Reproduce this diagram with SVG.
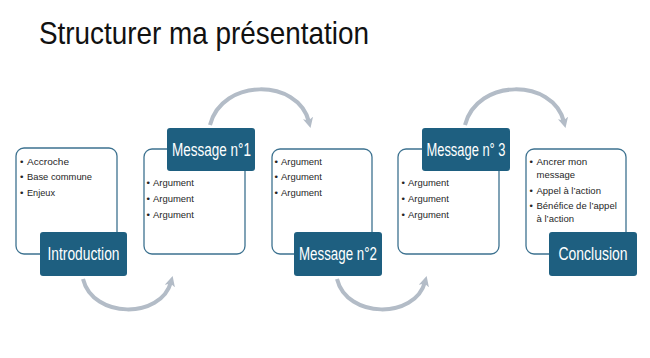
<svg xmlns="http://www.w3.org/2000/svg" width="650" height="358" viewBox="0 0 650 358">
<defs>
<style>
.box{fill:#fff;stroke:#3d7290;stroke-width:1.3}
.lab{fill:#1e5f80}
.lt{font-family:"Liberation Sans",Arial,sans-serif;font-size:17.5px;fill:#fff;text-anchor:middle}
.bt{font-family:"Liberation Sans",Arial,sans-serif;font-size:9.8px;fill:#262626}
.arc{fill:none;stroke:#b3bcc7;stroke-width:4;marker-end:url(#ah)}
</style>
<marker id="ah" viewBox="0 0 10 10" refX="4" refY="5" markerWidth="2.6" markerHeight="2.6" orient="auto" markerUnits="strokeWidth">
<path d="M0,0 L10,5 L0,10 L2.5,5 Z" fill="#b3bcc7"/>
</marker>
</defs>
<rect width="650" height="358" fill="#fff"/>
<text x="39" y="44" font-family="'Liberation Sans',Arial,sans-serif" font-size="32" fill="#111" textLength="330" lengthAdjust="spacingAndGlyphs">Structurer ma présentation</text>

<g id="connectors">
<path class="arc" d="M83,279 C93,319 161,319 171,282"/>
<path class="arc" d="M210,125 C222,78 298,78 309,122"/>
<path class="arc" d="M337,279 C347,319 415,319 425,282"/>
<path class="arc" d="M465,125 C477,78 553,78 564,122"/>
</g>

<g id="introduction">
<rect class="box" x="16" y="148" width="101" height="106" rx="8"/>
<text class="bt" x="20" y="164.5">•</text><text class="bt" x="27" y="164.5" textLength="42" lengthAdjust="spacingAndGlyphs">Accroche</text>
<text class="bt" x="20" y="180">•</text><text class="bt" x="27" y="180" textLength="65" lengthAdjust="spacingAndGlyphs">Base commune</text>
<text class="bt" x="20" y="195.5">•</text><text class="bt" x="27" y="195.5" textLength="28" lengthAdjust="spacingAndGlyphs">Enjeux</text>
<rect class="lab" x="40" y="232" width="87" height="44" rx="3"/>
<text class="lt" x="83.5" y="259.5" textLength="72" lengthAdjust="spacingAndGlyphs">Introduction</text>
</g>

<g id="message1">
<rect class="box" x="144" y="149" width="101" height="105" rx="8"/>
<rect class="lab" x="167" y="128" width="88" height="43" rx="3"/>
<text class="lt" x="211.5" y="155.5" textLength="79" lengthAdjust="spacingAndGlyphs">Message n°1</text>
<text class="bt" x="146.5" y="185.5">•</text><text class="bt" x="153" y="185.5" textLength="41" lengthAdjust="spacingAndGlyphs">Argument</text>
<text class="bt" x="146.5" y="202">•</text><text class="bt" x="153" y="202" textLength="41" lengthAdjust="spacingAndGlyphs">Argument</text>
<text class="bt" x="146.5" y="217.5">•</text><text class="bt" x="153" y="217.5" textLength="41" lengthAdjust="spacingAndGlyphs">Argument</text>
</g>

<g id="message2">
<rect class="box" x="272" y="149" width="100" height="105" rx="8"/>
<text class="bt" x="274.5" y="164.5">•</text><text class="bt" x="281" y="164.5" textLength="41" lengthAdjust="spacingAndGlyphs">Argument</text>
<text class="bt" x="274.5" y="180">•</text><text class="bt" x="281" y="180" textLength="41" lengthAdjust="spacingAndGlyphs">Argument</text>
<text class="bt" x="274.5" y="195.5">•</text><text class="bt" x="281" y="195.5" textLength="41" lengthAdjust="spacingAndGlyphs">Argument</text>
<rect class="lab" x="294" y="232" width="88" height="44" rx="3"/>
<text class="lt" x="338" y="259.5" textLength="78" lengthAdjust="spacingAndGlyphs">Message n°2</text>
</g>

<g id="message3">
<rect class="box" x="398" y="149" width="101" height="105" rx="8"/>
<rect class="lab" x="422" y="128" width="88" height="43" rx="3"/>
<text class="lt" x="466" y="155.5" textLength="79" lengthAdjust="spacingAndGlyphs">Message n° 3</text>
<text class="bt" x="401.5" y="185.5">•</text><text class="bt" x="408" y="185.5" textLength="41" lengthAdjust="spacingAndGlyphs">Argument</text>
<text class="bt" x="401.5" y="202">•</text><text class="bt" x="408" y="202" textLength="41" lengthAdjust="spacingAndGlyphs">Argument</text>
<text class="bt" x="401.5" y="217.5">•</text><text class="bt" x="408" y="217.5" textLength="41" lengthAdjust="spacingAndGlyphs">Argument</text>
</g>

<g id="conclusion">
<rect class="box" x="526" y="149" width="100" height="105" rx="8"/>
<text class="bt" font-size="9.5" x="529.5" y="165">•<tspan x="536.5">Ancrer mon</tspan></text>
<text class="bt" font-size="9.5" x="536.5" y="178" style="font-size:9.5px">message</text>
<text class="bt" x="529.5" y="194" style="font-size:9.5px">•<tspan x="536.5">Appel à l’action</tspan></text>
<text class="bt" x="529.5" y="209" style="font-size:9.5px">•<tspan x="536.5">Bénéfice de l’appel</tspan></text>
<text class="bt" x="536.5" y="222" style="font-size:9.5px">à l’action</text>
<rect class="lab" x="549" y="232" width="88" height="44" rx="3"/>
<text class="lt" x="593" y="259.5" textLength="69" lengthAdjust="spacingAndGlyphs">Conclusion</text>
</g>
</svg>
